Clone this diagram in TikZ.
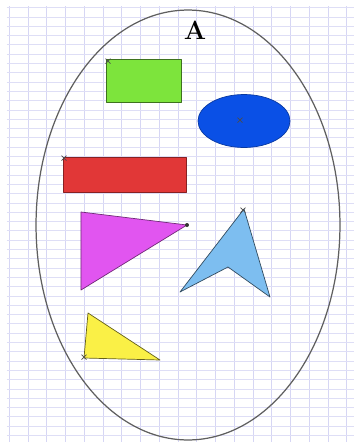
\documentclass[tikz,border=0pt]{standalone}
\usepackage{xcolor}
\definecolor{gridlilac}{RGB}{214,214,244}
\definecolor{setgray}{RGB}{95,95,95}
\definecolor{shgreen}{RGB}{125,228,60}
\definecolor{shblue}{RGB}{10,80,230}
\definecolor{shred}{RGB}{225,55,55}
\definecolor{shmagenta}{RGB}{225,85,240}
\definecolor{shsky}{RGB}{125,190,240}
\definecolor{shyellow}{RGB}{250,240,70}
\usetikzlibrary{shapes.geometric}
\tikzset{
  shape line/.style={line width=0.4pt,line join=round},
  mark cross/.style={line width=0.4pt,black!70}
}
\begin{document}
\begin{tikzpicture}[x=0.02cm,y=-0.02cm]
  \useasboundingbox (0,0) rectangle (354,444);
  \fill[white] (0,0) rectangle (354,444);
  % squared paper
  \foreach \gx in {0,...,18}
    \draw[gridlilac,line width=0.4pt] ({9.3+18.74*\gx},6) -- ({9.3+18.74*\gx},442);
  \foreach \gy in {0,...,46}
    \draw[gridlilac!80,line width=0.3pt] (7,{7.5+9.3*\gy}) -- (354,{7.5+9.3*\gy});
  % the set
  \node[draw=setgray,line width=0.7pt,ellipse,minimum width=6.08cm,minimum height=8.6cm] (setA) at (188,225) {};
  \node[font=\fontsize{15}{18}\selectfont\bfseries] (lblA) at (195,30) {A};
  % shapes inside
  \node[draw=shgreen!50!black,fill=shgreen,shape line,minimum width=1.5cm,minimum height=0.86cm,inner sep=0pt] (rectG) at (143.5,80.5) {};
  \node[draw=shblue!70!black,fill=shblue,shape line,ellipse,minimum width=1.84cm,minimum height=1.06cm,inner sep=0pt] (ovalB) at (244,121) {};
  \node[draw=shred!60!black,fill=shred,shape line,minimum width=2.46cm,minimum height=0.7cm,inner sep=0pt] (rectR) at (124.5,174.5) {};
  \draw[draw=shmagenta!50!black,fill=shmagenta,shape line] (81,212) -- (187,225) -- (81,290) -- cycle;
  \draw[draw=shsky!40!black,fill=shsky,shape line] (244,209) -- (270,297) -- (228,267) -- (180,292) -- cycle;
  \draw[draw=shyellow!40!black,fill=shyellow,shape line] (88,313) -- (160,360) -- (84,358) -- cycle;
  % small marks
  \foreach \mx/\my in {108/61, 64/158, 243/210, 84/357, 240/120}
    \draw[mark cross] (\mx-2.5,\my-2.5) -- (\mx+2.5,\my+2.5) (\mx-2.5,\my+2.5) -- (\mx+2.5,\my-2.5);
  \fill[black!80] (187,225) circle (2);
\end{tikzpicture}
\end{document}
